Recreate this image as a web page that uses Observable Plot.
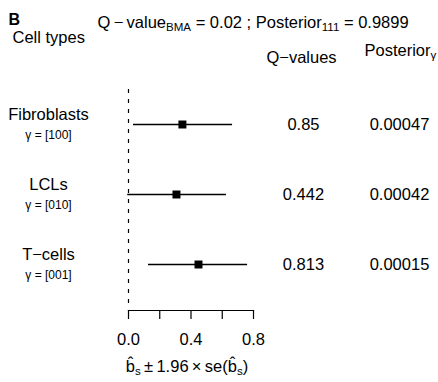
<!DOCTYPE html>
<html><head><meta charset="utf-8">
<script src="https://cdn.jsdelivr.net/npm/d3@7"></script>
<script src="https://cdn.jsdelivr.net/npm/@observablehq/plot@0.6"></script>
<style>body{margin:0;background:#fff} svg{display:block}</style>
</head><body><div id="chart"></div>
<script>
const cellTypes = ["Fibroblasts", "LCLs", "T\u2212cells"];
const gammaLabels = ["\u03b3 = [100]", "\u03b3 = [010]", "\u03b3 = [001]"];
const estimates = [0.345, 0.307, 0.448];
const lowerCI = [0.032, -0.005, 0.128];
const upperCI = [0.666, 0.627, 0.762];
const qValues = ["0.85", "0.442", "0.813"];
const posteriors = ["0.00047", "0.00042", "0.00015"];
const xTicks = [0, 0.2, 0.4, 0.6, 0.8];
const xTickLabels = ["0.0", "", "0.4", "", "0.8"];
const panelLabel = "B";
const titleText = "Q\u2009\u2212\u2009value_{BMA} = 0.02 ; Posterior_{111} = 0.9899";
const rowHeader = "Cell types";
const qHeader = "Q\u2212values";
const postHeader = "Posterior_{\u03b3}";
const xLabel = "b\u0302_{s}\u2009\u00b1\u20091.96\u2009\u00d7\u2009se(b\u0302_{s})";

const rows = cellTypes.map((c, i) => ({cell: c, gamma: gammaLabels[i], est: estimates[i], lo: lowerCI[i], hi: upperCI[i], q: qValues[i], post: posteriors[i]}));
const tickLabel = new Map(xTicks.map((t, i) => [t, xTickLabels[i]]));
const font = "'Liberation Sans', Arial, Helvetica, sans-serif";
const FS = 16.5;
const id = d => d;

const plot = Plot.plot({
  width: 438, height: 382,
  marginLeft: 128, marginRight: 185, marginTop: 85, marginBottom: 72,
  style: {fontFamily: font, fontSize: FS + "px", color: "#000", background: "#fff", overflow: "visible"},
  x: {domain: [0, 0.8]},
  y: {type: "point", domain: cellTypes, range: [123, 264], padding: 0, axis: null},
  marks: [
    Plot.ruleX([0], {stroke: "#000", strokeWidth: 1.2, strokeDasharray: "4,6", insetTop: 4, insetBottom: 5}),
    Plot.frame({anchor: "bottom", stroke: "#000", strokeWidth: 1.2}),
    Plot.axisX({ticks: xTicks, tickSize: 9, tickPadding: 14, tickFormat: d => tickLabel.get(d), fontSize: FS, label: null, stroke: "#000", strokeWidth: 1.2}),
    Plot.ruleY(rows, {y: "cell", x1: "lo", x2: "hi", stroke: "#000", strokeWidth: 1.4}),
    Plot.dot(rows, {x: "est", y: "cell", symbol: "square", r: 4.5, fill: "#000", stroke: "none"}),
    Plot.text(rows, {y: "cell", text: "cell", frameAnchor: "left", textAnchor: "middle", dx: -80, dy: -10, fontSize: FS}),
    Plot.text(rows, {y: "cell", text: "gamma", frameAnchor: "left", textAnchor: "middle", dx: -80, dy: 11, fontSize: 12}),
    Plot.text(rows, {y: "cell", text: "q", frameAnchor: "right", textAnchor: "middle", dx: 50, fontSize: FS}),
    Plot.text(rows, {y: "cell", text: "post", frameAnchor: "right", textAnchor: "middle", dx: 146, fontSize: FS}),
    Plot.text([panelLabel], {text: id, frameAnchor: "top-left", dx: -120, dy: -61, textAnchor: "start", lineAnchor: "bottom", fontWeight: "bold", fontSize: 16}),
    Plot.text([titleText], {text: id, frameAnchor: "top-left", dx: -31, dy: -58, textAnchor: "start", lineAnchor: "bottom", fontSize: FS}),
    Plot.text([rowHeader], {text: id, frameAnchor: "top-left", dx: -116, dy: -43, textAnchor: "start", lineAnchor: "bottom", fontSize: FS}),
    Plot.text([qHeader], {text: id, frameAnchor: "top-right", textAnchor: "middle", dx: 48, dy: -23, lineAnchor: "bottom", fontSize: FS}),
    Plot.text([postHeader], {text: id, frameAnchor: "top-right", dx: 111, dy: -30, textAnchor: "start", lineAnchor: "bottom", fontSize: FS}),
    Plot.text([xLabel], {text: id, frameAnchor: "bottom", textAnchor: "middle", dx: -4, dy: 61, lineAnchor: "bottom", fontSize: FS})
  ]
});

// render "_{...}" as subscripts
d3.select(plot).selectAll("text").each(function() {
  const s = this.textContent;
  if (!s.includes("_{")) return;
  const parts = s.split(/_\{([^}]*)\}/);
  const el = d3.select(this);
  el.text(null);
  parts.forEach((p, i) => {
    if (p === "") return;
    const t = el.append("tspan").text(p);
    if (i % 2 === 1) t.attr("font-size", "0.7em").attr("dy", "0.3em");
    else if (i > 0) t.attr("dy", "-0.21em");
  });
});

document.getElementById("chart").appendChild(plot);
</script>
</body></html>
